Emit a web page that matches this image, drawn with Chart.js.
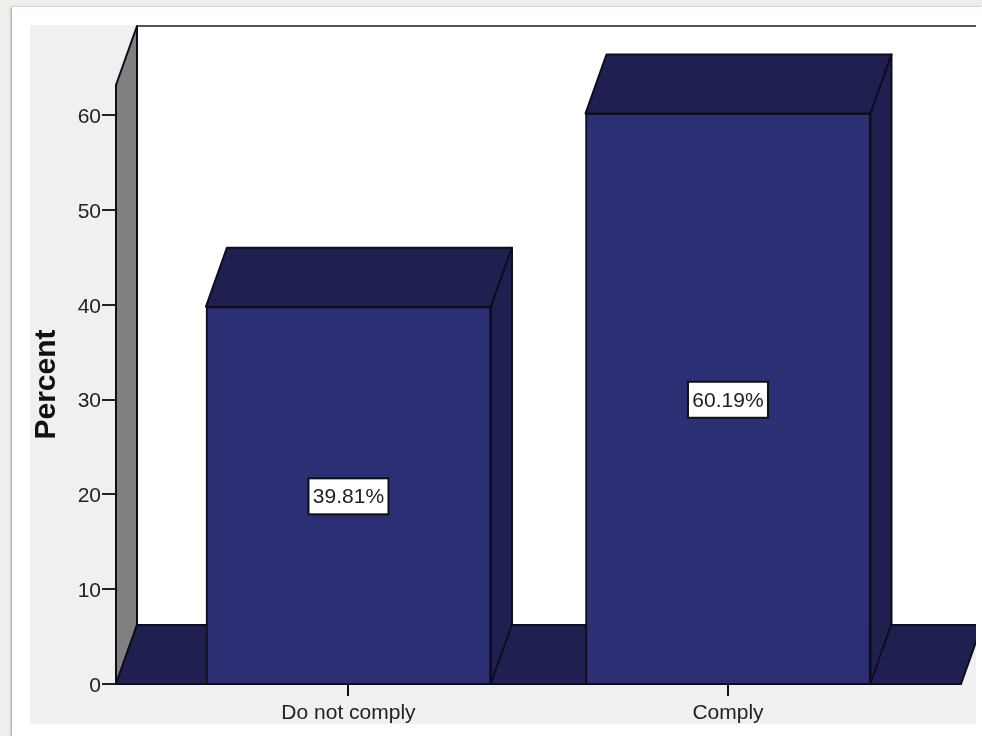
<!DOCTYPE html>
<html>
<head>
<meta charset="utf-8">
<title>Percent</title>
<script src="https://cdn.jsdelivr.net/npm/chart.js@4/dist/chart.umd.min.js"></script>
<style>
    html, body { margin: 0; width: 982px; height: 736px; overflow: hidden; background: #f0eeea; }
    #panel { position: absolute; left: 12px; top: 7px; width: 970px; height: 729px; background: #fff; box-shadow: -1px 0 2px #999; }
    #percentChart { position: absolute; left: 0; top: 0; }
</style>
</head>
<body>
<div id="panel"></div>
<canvas id="percentChart" width="982" height="736"></canvas>
<script>
const categories = ["Do not comply", "Comply"];
const categoryPositions = [0, 1];
const percentValues = [39.81, 60.19];
const yTickStep = 10;

// depth of the fake 3D box
const depthX = 21;
const depthY = 59;
const frontColor = "#2c2f74";
const darkColor = "#1f2050";
const lineColor = "#0d0d1c";

function polygon(ctx, points, fill) {
    ctx.beginPath();
    points.forEach((p, i) => (i ? ctx.lineTo(p[0], p[1]) : ctx.moveTo(p[0], p[1])));
    ctx.closePath();
    ctx.fillStyle = fill;
    ctx.fill();
    ctx.stroke();
}

const boxPlugin = {
    id: "box3d",
    beforeDraw(chart) {
        const ctx = chart.ctx;
        const { left, top, bottom } = chart.chartArea;
        ctx.save();
        ctx.fillStyle = "#f0f0f0";
        ctx.fillRect(30, 25, 946, 699);
        // back wall
        ctx.fillStyle = "#fff";
        ctx.fillRect(left + depthX, top - depthY, 976 - left - depthX, bottom - top);
        ctx.strokeStyle = "#555";
        ctx.lineWidth = 2;
        ctx.beginPath();
        ctx.moveTo(left + depthX, top - depthY);
        ctx.lineTo(976, top - depthY);
        ctx.stroke();
        ctx.restore();
    },
    beforeDatasetsDraw(chart) {
        const ctx = chart.ctx;
        const { left, right, top, bottom } = chart.chartArea;
        ctx.save();
        ctx.beginPath();
        ctx.rect(30, 25, 946, 699);
        ctx.clip();
        ctx.strokeStyle = lineColor;
        ctx.lineWidth = 2;
        ctx.lineJoin = "round";
        // side wall and floor
        polygon(ctx, [[left, bottom], [left + depthX, bottom - depthY], [left + depthX, top - depthY], [left, top]], "#808080");
        polygon(ctx, [[left, bottom], [left + depthX, bottom - depthY], [right + depthX, bottom - depthY], [right, bottom]], darkColor);
        // top and side of each bar
        chart.getDatasetMeta(0).data.forEach((bar) => {
            const x0 = bar.x - bar.width / 2;
            const x1 = bar.x + bar.width / 2;
            polygon(ctx, [[x0, bar.y], [x0 + depthX, bar.y - depthY], [x1 + depthX, bar.y - depthY], [x1, bar.y]], darkColor);
            polygon(ctx, [[x1, bar.y], [x1 + depthX, bar.y - depthY], [x1 + depthX, bar.base - depthY], [x1, bar.base]], darkColor);
        });
        ctx.restore();
    },
    afterDatasetsDraw(chart) {
        const ctx = chart.ctx;
        ctx.save();
        ctx.font = "21px 'Liberation Sans'";
        ctx.textAlign = "center";
        ctx.textBaseline = "middle";
        chart.getDatasetMeta(0).data.forEach((bar, i) => {
            const text = percentValues[i].toFixed(2) + "%";
            const midY = (bar.y + bar.base) / 2 + 1.5;
            ctx.fillStyle = "#fff";
            ctx.strokeStyle = "#111";
            ctx.lineWidth = 2;
            ctx.fillRect(bar.x - 40, midY - 18, 80, 36);
            ctx.strokeRect(bar.x - 40, midY - 18, 80, 36);
            ctx.fillStyle = "#222";
            ctx.fillText(text, bar.x, midY + 1);
        });
        ctx.restore();
    },
};

new Chart(document.getElementById("percentChart"), {
    type: "bar",
    data: {
        datasets: [
            {
                data: categoryPositions.map((x, i) => ({ x: x, y: percentValues[i] })),
                backgroundColor: frontColor,
                borderColor: lineColor,
                borderWidth: 2,
                barThickness: 285,
            },
        ],
    },
    options: {
        responsive: false,
        animation: false,
        layout: { padding: { top: 85, right: 21, left: 0, bottom: 0 } },
        plugins: { legend: { display: false }, tooltip: { enabled: false } },
        scales: {
            x: {
                type: "linear",
                offset: false,
                min: -0.6126,
                max: 1.614,
                afterBuildTicks: (scale) => {
                    scale.ticks = categoryPositions.map((v) => ({ value: v }));
                },
                afterFit: (scale) => {
                    scale.height = 52;
                },
                grid: { offset: false, drawOnChartArea: false, color: "#111", lineWidth: 2, tickLength: 12 },
                border: { color: "#111", width: 2 },
                ticks: {
                    callback: (value) => categories[value],
                    color: "#222",
                    font: { family: "Liberation Sans", size: 21 },
                    padding: 5,
                    maxRotation: 0,
                    autoSkip: false,
                },
            },
            y: {
                min: 0,
                max: 63.2,
                afterFit: (scale) => {
                    scale.width = 116;
                },
                title: {
                    display: true,
                    text: "Percent",
                    color: "#111",
                    font: { family: "Liberation Sans", size: 30, weight: "bold" },
                    padding: { top: 29, bottom: 0 },
                },
                grid: { drawOnChartArea: false, color: "#222", lineWidth: 2, tickLength: 14 },
                border: { color: "#111", width: 2 },
                ticks: {
                    stepSize: yTickStep,
                    includeBounds: false,
                    color: "#222",
                    font: { family: "Liberation Sans", size: 21 },
                    padding: 1,
                    labelOffset: 2,
                },
            },
        },
    },
    plugins: [boxPlugin],
});
</script>
</body>
</html>
